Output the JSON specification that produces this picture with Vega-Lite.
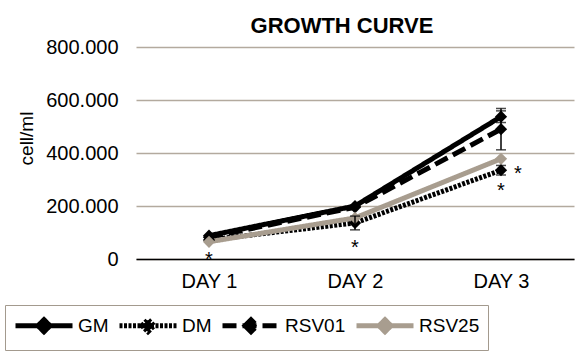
{
  "$schema": "https://vega.github.io/schema/vega-lite/v6.json",
  "width": 438,
  "height": 212,
  "autosize": {"type": "none"},
  "padding": {"left": 136, "top": 47, "right": 1, "bottom": 92},
  "background": "white",
  "config": {
    "font": "Liberation Sans",
    "view": {"stroke": null},
    "locale": {"number": {"decimal": ",", "thousands": ".", "grouping": [3], "currency": ["", ""]}}
  },
  "title": {
    "text": "GROWTH CURVE",
    "fontSize": 22,
    "fontWeight": "bold",
    "color": "#000000",
    "anchor": "middle",
    "frame": "group",
    "dx": -13,
    "dy": 20,
    "baseline": "alphabetic",
    "offset": 2
  },
  "datasets": {
    "lines": [
      {"series": "GM", "day": "DAY 1", "value": 88000},
      {"series": "GM", "day": "DAY 2", "value": 200000},
      {"series": "GM", "day": "DAY 3", "value": 537000},
      {"series": "DM", "day": "DAY 1", "value": 72000},
      {"series": "DM", "day": "DAY 2", "value": 136000},
      {"series": "DM", "day": "DAY 3", "value": 335000},
      {"series": "RSV01", "day": "DAY 1", "value": 82000},
      {"series": "RSV01", "day": "DAY 2", "value": 195000},
      {"series": "RSV01", "day": "DAY 3", "value": 490000},
      {"series": "RSV25", "day": "DAY 1", "value": 65000},
      {"series": "RSV25", "day": "DAY 2", "value": 155000},
      {"series": "RSV25", "day": "DAY 3", "value": 378000}
    ],
    "errors": [
      {"series": "GM", "day": "DAY 3", "lo": 515000, "hi": 559000},
      {"series": "RSV01", "day": "DAY 3", "lo": 412000, "hi": 568000},
      {"series": "DM", "day": "DAY 2", "lo": 110000, "hi": 162000},
      {"series": "DM", "day": "DAY 3", "lo": 317000, "hi": 353000}
    ],
    "stars": [
      {"day": "DAY 1", "value": 15000, "side": "center", "label": "*"},
      {"day": "DAY 2", "value": 61500, "side": "center", "label": "*"},
      {"day": "DAY 3", "value": 277000, "side": "center", "label": "*"},
      {"day": "DAY 3", "value": 340000, "side": "right", "label": "*"}
    ]
  },
  "encoding": {
    "x": {
      "field": "day",
      "type": "nominal",
      "scale": {"type": "point", "padding": 0.5},
      "axis": {
        "title": null,
        "labelAngle": 0,
        "labelFontSize": 20,
        "labelColor": "#000000",
        "labelPadding": 12,
        "ticks": false,
        "domainColor": "#000000",
        "domainWidth": 1.5,
        "grid": false
      }
    }
  },
  "layer": [
    {
      "data": {"name": "lines"},
      "mark": {"type": "line", "strokeWidth": 5},
      "encoding": {
        "y": {
          "field": "value",
          "type": "quantitative",
          "scale": {"domain": [0, 800000]},
          "axis": {
            "title": "cell/ml",
            "titleFontSize": 19,
            "titleFontWeight": "normal",
            "titleColor": "#000000",
            "titleAngle": -90,
            "titleAlign": "center",
            "titleBaseline": "bottom",
            "titleX": -100,
            "titleY": 91,
            "values": [0, 200000, 400000, 600000, 800000],
            "format": ",.0f",
            "labelFontSize": 20,
            "labelColor": "#000000",
            "labelPadding": 18,
            "ticks": false,
            "tickSize": 0,
            "domain": false,
            "gridColor": "#b3aa9e",
            "gridWidth": 1.3
          }
        },
        "color": {
          "field": "series",
          "type": "nominal",
          "sort": ["GM", "DM", "RSV01", "RSV25"],
          "scale": {"domain": ["GM", "DM", "RSV01", "RSV25"], "range": ["#000000", "#000000", "#000000", "#a89d8f"]},
          "legend": {
            "title": null,
            "orient": "none",
            "direction": "horizontal",
            "legendX": -131,
            "legendY": 258,
            "symbolType": "M-1,0H4.7M1.25,0L1.85,-0.6L2.45,0L1.85,0.6Z",
            "symbolSize": 400,
            "symbolStrokeWidth": 5,
            "labelOffset": 40,
            "labelFontSize": 19,
            "labelColor": "#000000",
            "columnPadding": 0,
            "padding": 8,
            "strokeColor": "#a39a8e",
            "encode": {"symbols": {"update": {"fill": {"scale": "color", "field": "value"}, "fillOpacity": {"value": 1}}}}
          }
        },
        "strokeDash": {
          "field": "series",
          "type": "nominal",
          "sort": ["GM", "DM", "RSV01", "RSV25"],
          "scale": {"domain": ["GM", "DM", "RSV01", "RSV25"], "range": [[1, 0], [3, 1.5], [14, 6], [1, 0]]},
          "legend": {
            "title": null,
            "orient": "none",
            "direction": "horizontal",
            "legendX": -131,
            "legendY": 258,
            "symbolType": "M-1,0H4.7M1.25,0L1.85,-0.6L2.45,0L1.85,0.6Z",
            "symbolSize": 400,
            "symbolStrokeWidth": 5,
            "labelOffset": 40,
            "labelFontSize": 19,
            "labelColor": "#000000",
            "columnPadding": 0,
            "padding": 8,
            "strokeColor": "#a39a8e"
          }
        }
      }
    },
    {
      "data": {"name": "lines"},
      "mark": {"type": "point", "shape": "diamond", "filled": true, "size": 150, "opacity": 1},
      "encoding": {
        "y": {"field": "value", "type": "quantitative"},
        "color": {"field": "series", "type": "nominal"}
      }
    },
    {
      "data": {"name": "errors"},
      "mark": {"type": "rule", "color": "#000000", "strokeWidth": 1.5},
      "encoding": {
        "y": {"field": "lo", "type": "quantitative"},
        "y2": {"field": "hi"}
      }
    },
    {
      "data": {"name": "errors"},
      "mark": {"type": "tick", "color": "#000000", "thickness": 1.5, "size": 10, "orient": "horizontal"},
      "encoding": {"y": {"field": "lo", "type": "quantitative"}}
    },
    {
      "data": {"name": "errors"},
      "mark": {"type": "tick", "color": "#000000", "thickness": 1.5, "size": 10, "orient": "horizontal"},
      "encoding": {"y": {"field": "hi", "type": "quantitative"}}
    },
    {
      "data": {"name": "stars"},
      "transform": [{"filter": "datum.side === 'center'"}],
      "mark": {"type": "text", "fontSize": 20, "color": "#000000", "baseline": "middle", "dy": 5},
      "encoding": {
        "y": {"field": "value", "type": "quantitative"},
        "text": {"field": "label"}
      }
    },
    {
      "data": {"name": "stars"},
      "transform": [{"filter": "datum.side === 'right'"}],
      "mark": {"type": "text", "fontSize": 20, "color": "#000000", "baseline": "middle", "dy": 5, "dx": 17},
      "encoding": {
        "y": {"field": "value", "type": "quantitative"},
        "text": {"field": "label"}
      }
    }
  ]
}
